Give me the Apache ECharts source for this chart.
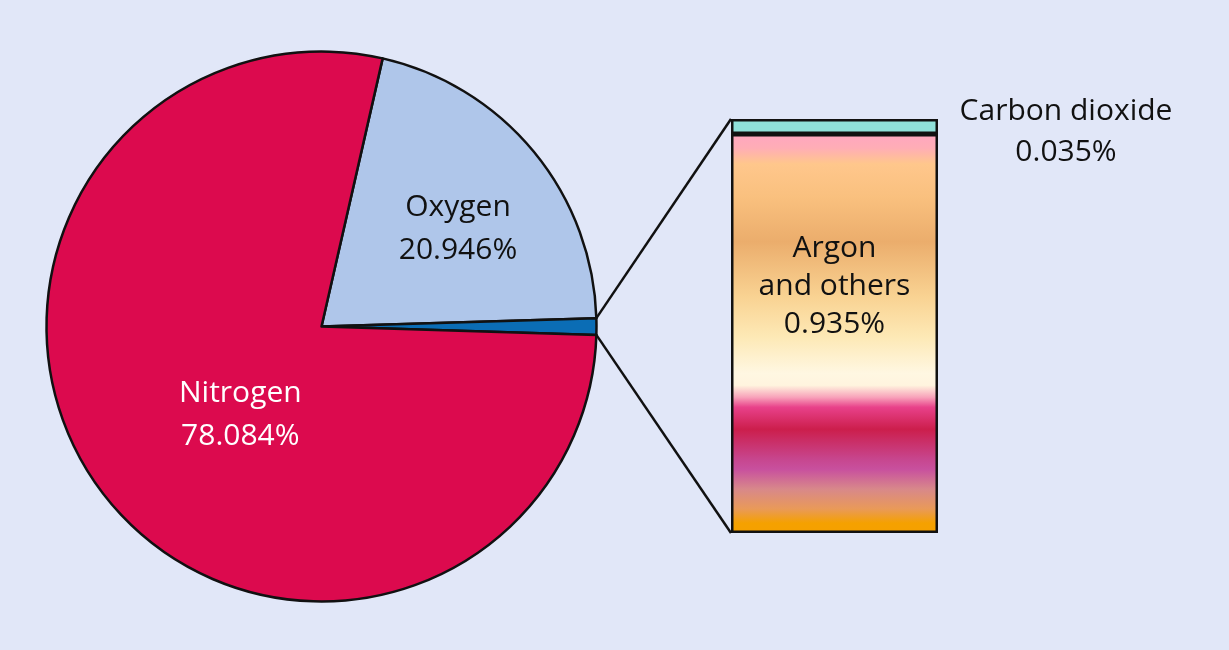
<!DOCTYPE html>
<html><head><meta charset="utf-8">
<script src="https://cdn.jsdelivr.net/npm/echarts@6/dist/echarts.min.js"></script>
<style>html,body{margin:0;padding:0;background:#E1E7F8;}#c{width:1229px;height:650px;}</style>
</head><body><div id="c"></div>
<script>
// Data
const pieNames = ['Oxygen', 'Argon and others', 'Nitrogen'];
const pieValues = [20.946, 0.970, 78.084];
const pieLabels = ['Oxygen\n20.946%', '', 'Nitrogen\n78.084%'];
const barNames = ['Argon and others', 'Carbon dioxide'];
const barValues = [0.935, 0.035];
const barLabels = ['Argon\nand others\n0.935%', 'Carbon dioxide\n0.035%'];

const FONT = '"Open Sans", "Noto Sans", sans-serif';
const CX = 321.5, CY = 326.5, R = 275, START = 77.15;

const argonGrad = new echarts.graphic.LinearGradient(0, 0, 0, 1, [
  {offset: 0.000, color: '#FFA6C0'},
  {offset: 0.035, color: '#FFADB6'},
  {offset: 0.075, color: '#FFC78C'},
  {offset: 0.160, color: '#F9C07E'},
  {offset: 0.270, color: '#EBAD6C'},
  {offset: 0.410, color: '#F9D393'},
  {offset: 0.510, color: '#FDE9B6'},
  {offset: 0.600, color: '#FFF7E2'},
  {offset: 0.630, color: '#FFF4DE'},
  {offset: 0.660, color: '#F8A2BA'},
  {offset: 0.685, color: '#E8418A'},
  {offset: 0.740, color: '#CC1E4C'},
  {offset: 0.815, color: '#C7468E'},
  {offset: 0.840, color: '#C8509E'},
  {offset: 0.890, color: '#D8888A'},
  {offset: 0.940, color: '#E99A58'},
  {offset: 0.975, color: '#F5A100'},
  {offset: 1.000, color: '#F5A000'}
]);
const barColors = [argonGrad, '#8FE0D9'];
const pieColors = ['#AFC6EA', '#0B6DB5', '#DC0A4E'];
const pieLabelColors = ['#111111', '#111111', '#FFFFFF'];
const pieLabelOffsets = [[28, -8], [0, 0], [30, 3]];
const barLabelCfg = [
  {position: 'inside', offset: [0, -47], lineHeight: 38},
  {position: 'right', distance: 0, align: 'center', offset: [128, 5], lineHeight: 41}
];

const total = barValues.reduce((a, b) => a + b, 0);

const chart = echarts.init(document.getElementById('c'), null, {renderer: 'canvas'});
const option = {
  backgroundColor: '#E1E7F8',
  animation: false,
  grid: {left: 731, top: 119, width: 207, height: 414, containLabel: false},
  xAxis: {type: 'category', data: ['mix'], show: false},
  yAxis: {type: 'value', min: 0, max: total, show: false},
  series: [
    {
      type: 'pie',
      center: [CX, CY],
      radius: R,
      startAngle: START,
      clockwise: true,
      silent: true,
      itemStyle: {borderColor: '#111', borderWidth: 2.5},
      labelLine: {show: false},
      data: pieNames.map((n, i) => ({
        name: n, value: pieValues[i],
        itemStyle: {color: pieColors[i]},
        label: {
          show: pieLabels[i] !== '', position: 'inside', formatter: pieLabels[i],
          color: pieLabelColors[i], fontSize: 30, lineHeight: 43, fontFamily: FONT,
          offset: pieLabelOffsets[i]
        }
      }))
    },
    ...barNames.map((n, i) => ({
      type: 'bar', name: n, stack: 'mix', barWidth: '100%',
      data: [barValues[i]],
      itemStyle: {color: barColors[i], borderColor: '#111', borderWidth: 2.5},
      label: Object.assign({
        show: true, formatter: barLabels[i], color: '#111', fontSize: 30,
        fontFamily: FONT
      }, barLabelCfg[i])
    }))
  ]
};
chart.setOption(option);

// Connector lines computed from pie geometry and bar grid
function drawConnectors() {
  const sum = pieValues.reduce((a, b) => a + b, 0);
  const a1 = (START - 360 * pieValues[0] / sum) * Math.PI / 180;
  const a2 = (START - 360 * (pieValues[0] + pieValues[1]) / sum) * Math.PI / 180;
  const p1 = [CX + R * Math.cos(a1), CY - R * Math.sin(a1)];
  const p2 = [CX + R * Math.cos(a2), CY - R * Math.sin(a2)];
  const rect = chart.getModel().getComponent('grid', 0).coordinateSystem.getRect();
  const topY = chart.convertToPixel({yAxisIndex: 0}, total);
  const botY = chart.convertToPixel({yAxisIndex: 0}, 0);
  chart.setOption({
    graphic: [
      {type: 'line', silent: true, z: 10, shape: {x1: p1[0], y1: p1[1], x2: rect.x, y2: topY},
       style: {stroke: '#111', lineWidth: 2.5}},
      {type: 'line', silent: true, z: 10, shape: {x1: p2[0], y1: p2[1], x2: rect.x, y2: botY},
       style: {stroke: '#111', lineWidth: 2.5}}
    ]
  });
}
drawConnectors();
</script>
</body></html>
